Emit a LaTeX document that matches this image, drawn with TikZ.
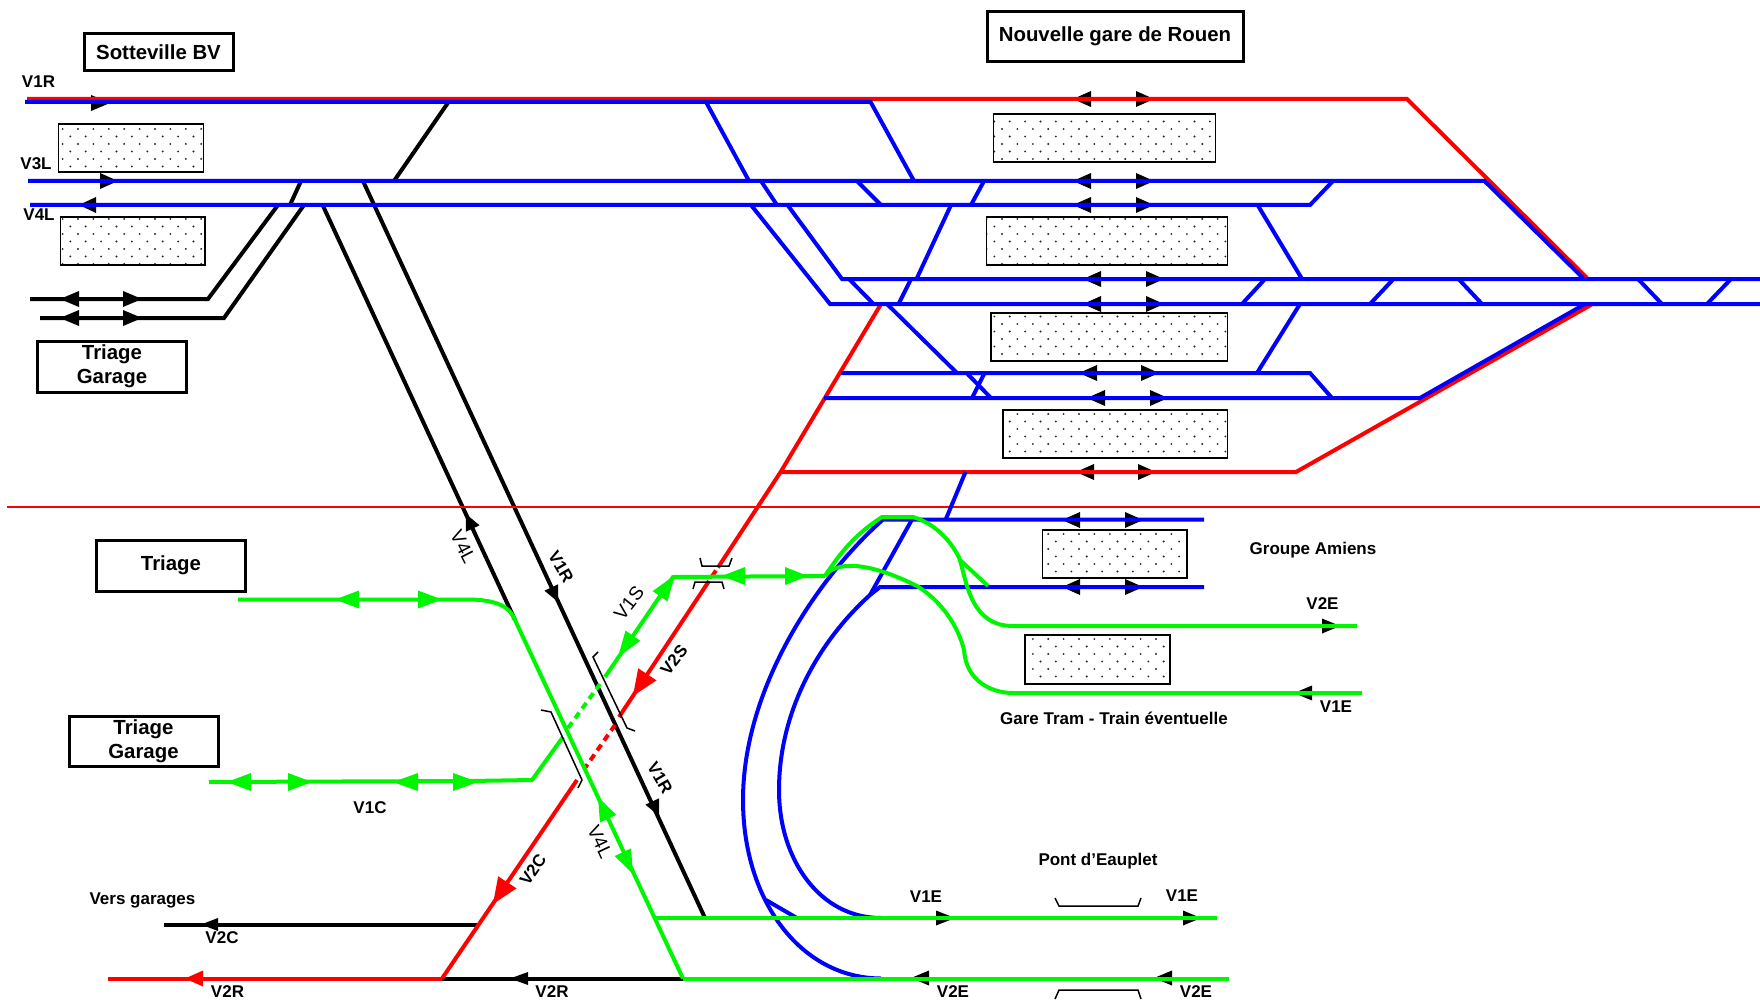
\documentclass[tikz,border=0pt]{standalone}
\usepackage{fontspec}
\setmainfont{Liberation Sans}
\usetikzlibrary{patterns}
\definecolor{tblue}{RGB}{0,0,255}
\definecolor{tred}{RGB}{255,0,0}
\definecolor{tgreen}{RGB}{0,245,0}
\pgfdeclarepatternformonly{stationdots}{\pgfqpoint{-2pt}{-2pt}}{\pgfqpoint{17pt}{17pt}}{\pgfqpoint{15.4pt}{15pt}}{%
  \pgfpathcircle{\pgfqpoint{1pt}{1pt}}{1.05pt}
  \pgfpathcircle{\pgfqpoint{8.7pt}{8.5pt}}{1.05pt}
  \pgfusepath{fill}}
\newcommand{\hhead}[5]{\fill[#1] (#2,{#4-#5}) -- (#3,#4) -- (#2,{#4+#5}) -- cycle;}
\newcommand{\shead}[6]{\fill[#1,shift={(#2,#3)},rotate=#4] (0,0) -- (-#5,#6) -- (-#5,-#6) -- cycle;}
\tikzset{x=1pt,y=-1pt,
  trk/.style={line width=4pt,line cap=butt,line join=miter},
  blk/.style={trk,draw=black},
  blu/.style={trk,draw=tblue},
  rd/.style={trk,draw=tred},
  grn/.style={trk,draw=tgreen},
  bracket/.style={draw=black,line width=1.5pt},
  station/.style={draw=black,line width=1.4pt,pattern=stationdots,pattern color=black!85},
  titlebox/.style={draw=black,line width=3pt,fill=white,inner sep=0pt,align=center,font=\bfseries\fontsize{20.4}{24}\selectfont},
  lbl/.style={font=\bfseries\fontsize{17}{20}\selectfont,inner sep=0pt},
  lbr/.style={font=\fontsize{19}{20}\selectfont,inner sep=0pt},
}
\begin{document}
\begin{tikzpicture}
\useasboundingbox (0,0) rectangle (1760,1000);
% stations
\path[station] (58.5,124) rectangle (203.5,172);
\path[station] (60.5,217) rectangle (205,265);
\path[station] (993.5,114) rectangle (1215.5,162);
\path[station] (986.5,217) rectangle (1227.5,265);
\path[station] (991,313) rectangle (1227.5,361);
\path[station] (1003,410) rectangle (1227.5,458);
\path[station] (1042.5,530) rectangle (1187,578);
\path[station] (1025,635) rectangle (1170,684);
% black arrow heads, under the lines
\hhead{black}{91}{110}{103}{8}
\hhead{black}{100}{118}{181}{8}
\hhead{black}{96}{79}{205}{8}
\hhead{black}{79}{60}{299}{8}\hhead{black}{123}{142}{299}{8}
\hhead{black}{79}{60}{318}{8}\hhead{black}{123}{142}{318}{8}
\foreach \y in {99,181,205}{\hhead{black}{1091}{1073}{\y}{8}\hhead{black}{1136}{1154}{\y}{8}}
\foreach \y in {279,304}{\hhead{black}{1101}{1083}{\y}{8}\hhead{black}{1146}{1164}{\y}{8}}
\hhead{black}{1097}{1079}{373}{8}\hhead{black}{1141}{1159}{373}{8}
\hhead{black}{1105}{1087}{398}{8}\hhead{black}{1150}{1168}{398}{8}
\hhead{black}{1094}{1076}{472}{8}\hhead{black}{1138}{1156}{472}{8}
\foreach \y in {520,587}{\hhead{black}{1080}{1062}{\y}{8}\hhead{black}{1125}{1143}{\y}{8}}
\hhead{black}{1322}{1340}{626}{7.5}
\hhead{black}{1312}{1294}{693}{7.5}
\hhead{black}{936}{955}{918}{7.5}\hhead{black}{1183}{1201}{918}{7.5}
\hhead{black}{929}{911}{978}{7.5}\hhead{black}{1172}{1154}{978}{7.5}
\hhead{black}{218}{201}{924.5}{6.5}
\hhead{black}{528}{510}{978.5}{6.5}
% black tracks
\draw[blk] (30,299) -- (208,299) -- (278,205);
\draw[blk] (290,205) -- (301,181);
\draw[blk] (40,318) -- (224,318) -- (304,205);
\draw[blk] (394,181) -- (448.5,102);
\draw[blk] (322.6,205) -- (515,620);
\draw[blk] (363,181) -- (705,918);
\draw[blk] (163.5,924.5) -- (478.6,924.5);
\draw[blk] (442,978.5) -- (683,978.5);
\shead{black}{466}{514}{115}{16}{7.5}
\shead{black}{558}{602}{-65}{16}{7.5}
\shead{black}{659}{816}{-65}{16}{7.5}
% red tracks
\draw[tred,line width=1.6pt] (7,507) -- (1760,507);
\draw[rd] (27,99) -- (1407,99) -- (1587,278);
\draw[rd] (1592.5,304) -- (1296,472) -- (780.6,472);
\draw[rd] (881,304) -- (780.6,472) -- (718,567.5);
\draw[rd] (716,570.5) -- (711.5,577);
\draw[rd] (709,581) -- (619,717);
\draw[rd,dash pattern=on 7pt off 5pt] (615,725) -- (585,768);
\draw[rd] (577,780) -- (442,978.5);
\draw[rd] (108,978.5) -- (442,978.5);
\shead{tred}{633}{696}{-123.5}{26}{11}
\shead{tred}{493}{904}{-123.5}{26}{11}
\shead{tred}{185}{978.5}{180}{18}{8}
% blue tracks
\draw[blu] (25,102) -- (870.6,102) -- (914,181);
\draw[blu] (706,102) -- (749,181);
\draw[blu] (28,181) -- (1484.5,181) -- (1583,278);
\draw[blu] (30,205) -- (1310,205) -- (1333,181);
\draw[blu] (761,181) -- (777,205);
\draw[blu] (857,181) -- (881,205);
\draw[blu] (984,181) -- (971,205);
\draw[blu] (751,205) -- (830,304) -- (1760,304);
\draw[blu] (787.5,205) -- (842,279) -- (1760,279);
\draw[blu] (951,205) -- (916.5,279);
\draw[blu] (911,279) -- (898.5,304);
\draw[blu] (849,279) -- (873.6,304);
\draw[blu] (887,304) -- (957,373);
\draw[blu] (966.6,373) -- (991,398);
\draw[blu] (984.6,373) -- (972,398);
\draw[blu] (841,373) -- (1310,373) -- (1332,398);
\draw[blu] (824,398) -- (1420,398) -- (1585,304);
\draw[blu] (1257.6,205) -- (1302,279);
\draw[blu] (1265,279) -- (1242,304);
\draw[blu] (1393.5,279) -- (1370,304);
\draw[blu] (1458.5,279) -- (1482,304);
\draw[blu] (1638,279) -- (1662,304);
\draw[blu] (1731,279) -- (1707,304);
\draw[blu] (1300,304) -- (1257,373);
\draw[blu] (965.5,472) -- (945.7,519.5);
\draw[blu] (1204,519.5) -- (883,519.5) .. controls (815,580) and (743,690) .. (743,800) .. controls (743,900) and (800,978) .. (881,978.5);
\draw[blu] (1204,587) -- (880,587) -- (870,595) .. controls (820,640) and (779,710) .. (779,790) .. controls (779,860) and (820,918) .. (881,918);
\draw[blu] (912,519.5) -- (870,595);
\draw[blu] (766,900) -- (796,917.5);
% green tracks
\draw[grn] (238,599.5) -- (470,599.5) .. controls (495,600) and (510,606) .. (515,620) -- (683,978.5);
\draw[grn] (656,918) -- (1217,918);
\draw[grn] (683,978.5) -- (1229,978.5);
\draw[grn] (209,782) -- (470,781) -- (532,780) -- (563,737);
\draw[grn,dash pattern=on 7pt off 5pt] (568,728) -- (600,684);
\draw[grn] (605,677) -- (620,655) -- (673,577) -- (825,576);
\draw[grn] (825,576) .. controls (845,545) and (862,530) .. (882,517) -- (913,517) .. controls (940,525) and (955,548) .. (960,560) .. controls (967,585) and (972,626) .. (1013,626) -- (1357,626);
\draw[grn] (960,560) -- (988,586);
\draw[grn] (825,576) .. controls (835,562) and (865,560) .. (917,586) .. controls (940,600) and (958,625) .. (964,650) .. controls (966,680) and (990,693) .. (1013,693) -- (1362,693);
\hhead{tgreen}{359}{335}{599.5}{9}\hhead{tgreen}{418}{442}{599.5}{9}
\hhead{tgreen}{251}{227}{782}{9}\hhead{tgreen}{288}{312}{782}{9}
\hhead{tgreen}{418}{393}{782}{9}\hhead{tgreen}{453}{478}{782}{9}
\hhead{tgreen}{745}{722}{576}{9}\hhead{tgreen}{785}{808}{576}{9}
\shead{tgreen}{675}{575}{55}{26}{9}
\shead{tgreen}{618}{657}{-125}{26}{9}
\shead{tgreen}{598}{797}{115}{24}{9}
\shead{tgreen}{633}{874}{-65}{24}{9}
% portals
\draw[bracket] (700,558) -- (702,566) -- (729,566) -- (732,558);
\draw[bracket] (693,589) -- (695,582) -- (722,582) -- (724,589);
\draw[bracket] (598,652) -- (593,657) -- (627,728) -- (635,731);
\draw[bracket] (541,710) -- (551,712) -- (582,780) -- (578,788);
\draw[bracket] (1055,898) -- (1059,906) -- (1138,906) -- (1141,898);
\draw[bracket] (1055,999) -- (1059,990) -- (1138,990) -- (1141,999);
% boxes
\node[titlebox,minimum width=149pt,minimum height=37pt] (sott) at (158.5,52.5) {Sotteville BV};
\node[titlebox,minimum width=256pt,minimum height=50pt] (rouen) at (1115,36.5) {Nouvelle gare de Rouen};
\node[titlebox,minimum width=149pt,minimum height=51pt] (tg1) at (112,366.5) {Triage\\Garage};
\node[titlebox,minimum width=149pt,minimum height=51pt] (tri) at (171,565.5) {Triage};
\node[titlebox,minimum width=149pt,minimum height=50pt] (tg2) at (143.5,741) {Triage\\Garage};
% labels
\node[lbl] (l1) at (38.5,81.5) {V1R};
\node[lbl] (l2) at (36,164) {V3L};
\node[lbl] (l3) at (39,215) {V4L};
\node[lbr,rotate=-63] (l4) at (463,547) {V4L};
\node[lbl,rotate=-60] (l5) at (561,567) {V1R};
\node[lbr,rotate=52] (l6) at (629,603) {V1S};
\node[lbl,rotate=52] (l7) at (674,660) {V2S};
\node[lbl,rotate=-60] (l8) at (660,778) {V1R};
\node[lbl,rotate=55] (l9) at (533,870) {V2C};
\node[lbr,rotate=-65] (l10) at (600,842) {V4L};
\node[lbl] (l11) at (370,808) {V1C};
\node[lbl] (l12) at (142.5,900.5) {Vers garages};
\node[lbl] (l13) at (222,938) {V2C};
\node[lbl] (l14) at (227.5,992) {V2R};
\node[lbl] (l15) at (552,992) {V2R};
\node[lbl] (l16) at (953,992) {V2E};
\node[lbl] (l17) at (1196,992) {V2E};
\node[lbl] (l18) at (926,897) {V1E};
\node[lbl] (l19) at (1182,896) {V1E};
\node[lbl] (l20) at (1098,861) {Pont d’Eauplet};
\node[lbl] (l21) at (1313,550) {Groupe Amiens};
\node[lbl] (l22) at (1322.5,603.5) {V2E};
\node[lbl] (l23) at (1336,707) {V1E};
\node[lbl] (l24) at (1114,718.5) {Gare Tram - Train éventuelle};
\end{tikzpicture}
\end{document}
